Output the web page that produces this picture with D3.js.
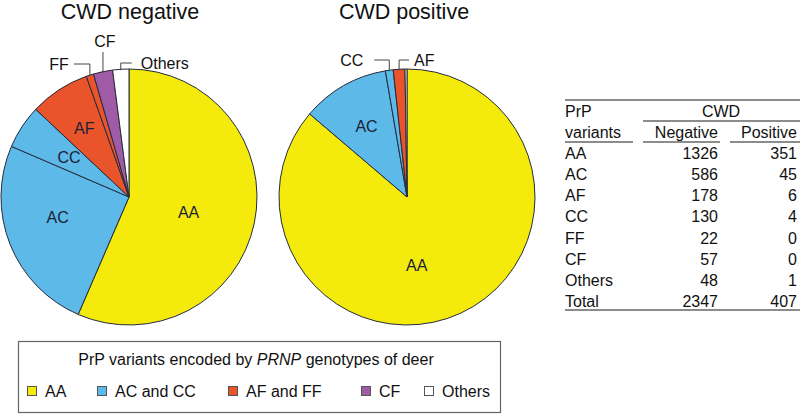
<!DOCTYPE html>
<html><head><meta charset="utf-8">
<script src="https://cdn.jsdelivr.net/npm/d3@7"></script>
<style>
html,body{margin:0;padding:0;background:#fff;}
text{font-family:"Liberation Sans",Arial,sans-serif;}
</style></head>
<body><svg id="c" width="800" height="415"></svg>
<script>
// ---- data ----
const variants = ["AA","AC","CC","AF","FF","CF","Others"];
const negative = [1326,586,130,178,22,57,48];
const positive = [351,45,4,6,0,0,1];
const tableRows = ["AA","AC","AF","CC","FF","CF","Others"];
const totals = {negative:2347, positive:407};
const legendGroups = ["AA","AC and CC","AF and FF","CF","Others"];
const groupOf = {AA:"AA",AC:"AC and CC",CC:"AC and CC",AF:"AF and FF",FF:"AF and FF",CF:"CF",Others:"Others"};

const color = d3.scaleOrdinal().domain(legendGroups)
  .range(["#f4ea0c","#5db9e8","#e9542b","#a05ba6","#ffffff"]);

const svg = d3.select("#c");
const R = 128;
const stroke = "#262b3c";

function drawPie(cx, cy, title, tx, values, inside, outside){
  const g = svg.append("g").attr("transform",`translate(${cx},${cy})`);
  const data = variants.map((v,i)=>({name:v,value:values[i]}));
  const arcs = d3.pie().sort(null).value(d=>d.value)(data);
  const arc = d3.arc().innerRadius(0).outerRadius(R);
  g.selectAll("path.s").data(arcs.filter(a=>a.value>0)).join("path")
    .attr("d",arc).attr("fill",d=>color(groupOf[d.data.name]))
    .attr("stroke",stroke).attr("stroke-width",1).attr("stroke-linejoin","round");
  svg.append("text").attr("x",tx).attr("y",19).attr("text-anchor","middle")
    .attr("font-size",21.5).attr("fill","#111").text(title);
  const byName = {}; arcs.forEach(a=>byName[a.data.name]=a);
  inside.forEach(l=>{
    const a = byName[l.name];
    const ang = l.angle!==undefined ? l.angle*Math.PI/180 : (a.startAngle+a.endAngle)/2;
    const rr = R*l.rf;
    g.append("text").attr("x",rr*Math.sin(ang)).attr("y",-rr*Math.cos(ang))
      .attr("dy","0.36em").attr("text-anchor","middle").attr("font-size",16)
      .attr("fill","#1c2236").text(l.name);
  });
  outside.forEach(l=>{
    const a = byName[l.name];
    const ang = (a.startAngle+a.endAngle)/2;
    const ex = R*Math.sin(ang), ey = -R*Math.cos(ang);
    g.append("path").attr("d",`M${ex},${ey+1}V${l.y}H${ex+l.dx}`)
      .attr("fill","none").attr("stroke","#444").attr("stroke-width",1);
    if(l.dx===0){
      g.append("text").attr("x",ex+(l.tx||0)).attr("y",l.y-5).attr("text-anchor","middle")
        .attr("font-size",16).attr("fill","#111").text(l.name);
    } else {
      g.append("text").attr("x",ex+l.dx+(l.dx>0?l.gap:-l.gap)).attr("y",l.y).attr("dy","0.36em")
        .attr("text-anchor",l.dx>0?"start":"end")
        .attr("font-size",16).attr("fill","#111").text(l.name);
    }
  });
}

drawPie(129,197,"CWD negative",130,negative,
  [{name:"AA",rf:0.48,angle:104},{name:"AC",rf:0.58,angle:254},{name:"CC",rf:0.56},{name:"AF",rf:0.64}],
  [{name:"FF",y:-133,dx:-16,gap:5},{name:"CF",y:-145,dx:0,tx:2},{name:"Others",y:-134,dx:11,gap:9}]);
drawPie(407,197,"CWD positive",404,positive,
  [{name:"AA",rf:0.54,angle:172},{name:"AC",rf:0.64}],
  [{name:"CC",y:-137,dx:-15,gap:11},{name:"AF",y:-137,dx:10,gap:5}]);

// ---- table ----
const t = svg.append("g");
const xL=565, xN=718, xP=797, xEnd=800;
const line=(x1,x2,y)=>t.append("line").attr("x1",x1).attr("x2",x2).attr("y1",y).attr("y2",y)
  .attr("stroke","#666").attr("stroke-width",1.4);
const txt=(x,y,s,anchor)=>t.append("text").attr("x",x).attr("y",y).attr("text-anchor",anchor||"start")
  .attr("font-size",16).attr("fill","#111").text(s);
line(xL,xEnd,100);
txt(xL,117,"PrP"); txt(721,117,"CWD","middle");
line(643,xEnd,121);
txt(xL,138,"variants"); txt(xN,138,"Negative","end"); txt(xP,138,"Positive","end");
line(xL,633,142); line(643,720,142); line(730,xEnd,142);
const rows = tableRows.map(n=>{const i=variants.indexOf(n);return [n,negative[i],positive[i]];})
  .concat([["Total",totals.negative,totals.positive]]);
const ry = d3.scaleLinear().domain([0,rows.length-1]).range([159,307]);
rows.forEach((r,i)=>{ txt(xL,ry(i),r[0]); txt(xN,ry(i),r[1],"end"); txt(xP,ry(i),r[2],"end"); });
line(xL,xEnd,310);

// ---- legend ----
const lg = svg.append("g");
lg.append("rect").attr("x",18.5).attr("y",341.5).attr("width",482).attr("height",71)
  .attr("fill","#fff").attr("stroke","#666").attr("stroke-width",1.2);
const lt = lg.append("text").attr("x",256).attr("y",365).attr("text-anchor","middle")
  .attr("font-size",16).attr("fill","#111");
lt.append("tspan").text("PrP variants encoded by ");
lt.append("tspan").attr("font-style","italic").text("PRNP");
lt.append("tspan").text(" genotypes of deer");
const lxs = {"AA":27,"AC and CC":97,"AF and FF":228,"CF":361,"Others":424};
legendGroups.forEach(gn=>{
  const x = lxs[gn];
  lg.append("rect").attr("x",x+0.5).attr("y",386.5).attr("width",9).attr("height",9)
    .attr("fill",color(gn)).attr("stroke","#555").attr("stroke-width",1);
  lg.append("text").attr("x",x+18).attr("y",397).attr("font-size",16).attr("fill","#111").text(gn);
});
</script></body></html>
